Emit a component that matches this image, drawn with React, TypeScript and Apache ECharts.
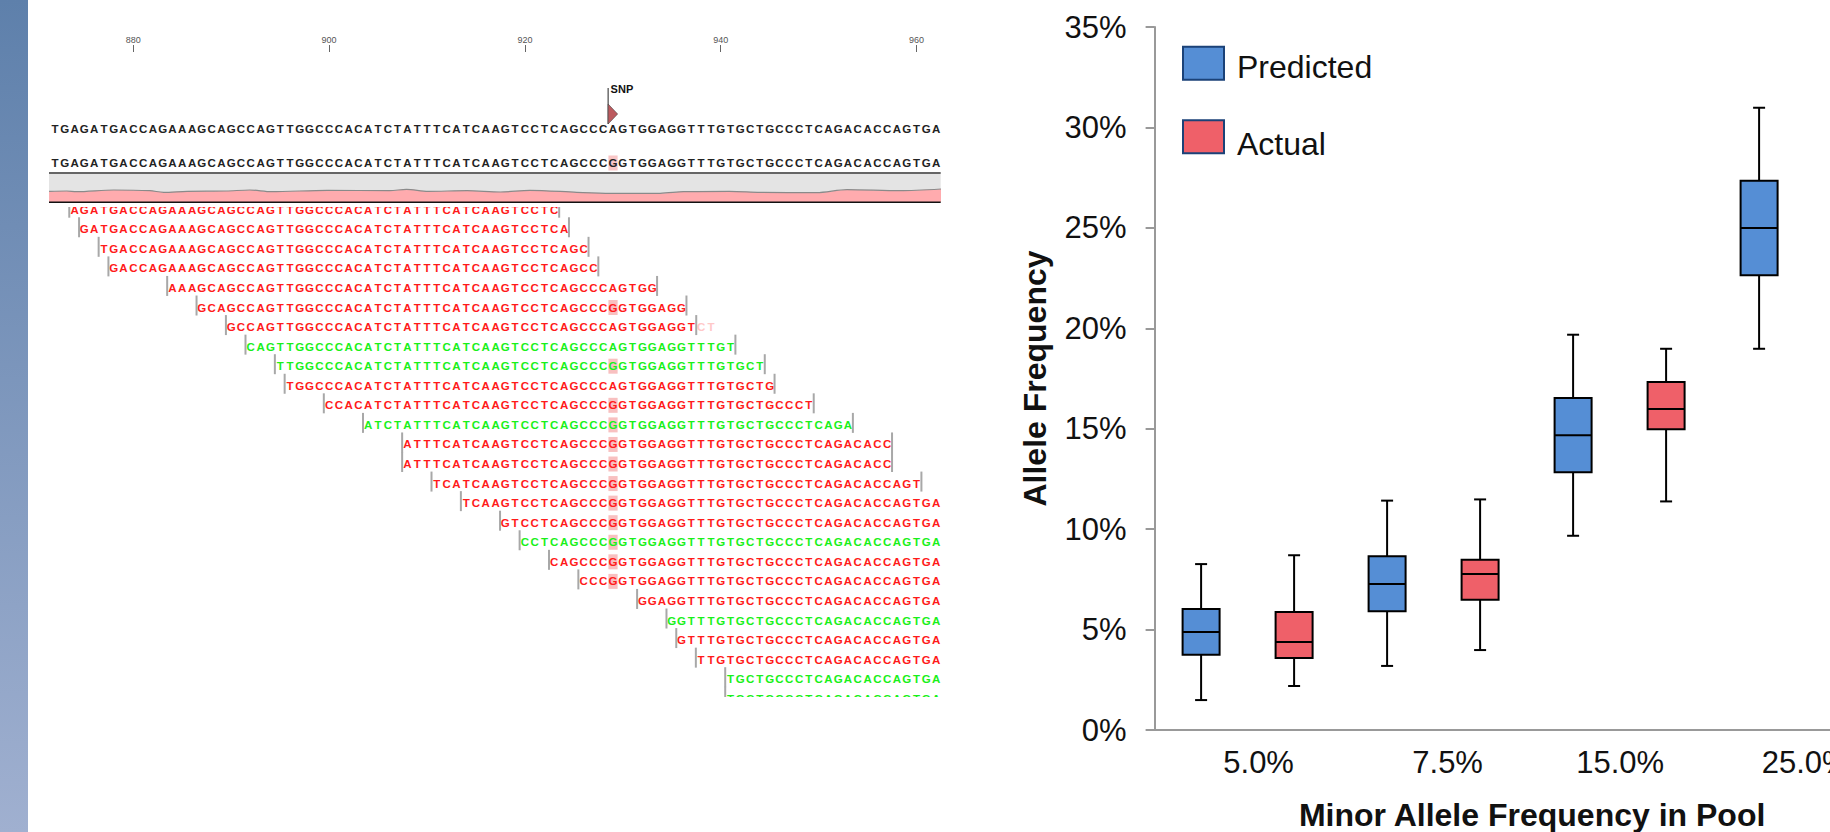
import React, { useEffect, useRef } from "react";
import * as echarts from "echarts";

const FONT = "Liberation Sans";

// ---- box plot data (percent): [categoryIndex, min, q1, median, q3, max]
const categories = ["5.0%", "7.5%", "15.0%", "25.0%"];
const predictedBoxes = [
  [0, 1.49, 3.75, 4.88, 6.02, 8.26],
  [1, 3.19, 5.91, 7.27, 8.65, 11.42],
  [2, 9.67, 12.83, 14.67, 16.53, 19.68],
  [3, 18.98, 22.64, 24.99, 27.35, 30.98],
];
const actualBoxes = [
  [0, 2.19, 3.58, 4.38, 5.87, 8.7],
  [1, 3.98, 6.49, 7.77, 8.48, 11.48],
  [2, 11.38, 14.97, 15.98, 17.33, 18.98],
];

// ---- sequence viewer data
const firstBase = 872;
const rulerTicks = [880, 900, 920, 940, 960];
const consensus = "TGAGATGACCAGAAAGCAGCCAGTTGGCCCACATCTATTTCATCAAGTCCTCAGCCCAGTGGAGGTTTGTGCTGCCCTCAGACACCAGTGA";
const snpPosition = 929;
const snpAllele = "G";
const readStarts = [2, 3, 5, 6, 12, 15, 18, 20, 23, 24, 28, 32, 36, 36, 39, 42, 46, 48, 51, 54, 60, 63, 64, 66, 69, 69];
const readEnds = [51, 52, 54, 55, 61, 64, 65, 69, 72, 73, 77, 81, 85, 85, 88, 90, 90, 90, 90, 90, 90, 90, 90, 90, 90, 90];
const readStrands = "RRRRRRRGGRRGRRRRRGRRRGRRGG";
const readAlleles = "AAAAAGAAGAGGGGGGGGGGGGGGGG";
const fadedTails = { 6: "CT" } as Record<number, string>;
const coveragePositions = [871.4, 873.2, 874.2, 878, 881.7, 883.1, 885.5, 889.5, 891.9, 894.1, 899.8, 906.2, 907.9, 910.1, 914.1, 917.5, 920.5, 925.3, 928.7, 933.8, 936.2, 940.9, 944, 949.8, 952.9, 958.3, 962.5];
const coverageValues = [10.7, 11, 10.3, 12, 11.3, 9.7, 10.7, 11, 12, 10.3, 11.7, 11.3, 12.7, 10.7, 11.3, 10, 11.7, 9.7, 8.7, 8.7, 10.3, 10.7, 9.7, 9.3, 12.3, 11.3, 13];

const xMin = 871.39;
const xMax = 962.47;
const BLUE = "#558ED5";
const RED = "#EF6069";
const NAVY = "#1B4278";
const RED_TEXT = "#FF1A1A";
const GREEN_TEXT = "#19F019";

function letter(api: any, p: number, laneValue: number, ch: string, fill: string) {
  const c = api.coord([p, laneValue]);
  return {
    type: "text",
    x: c[0],
    y: c[1],
    style: { text: ch, fill, fontFamily: FONT, fontWeight: "bold", fontSize: 11.5, align: "center", verticalAlign: "middle" },
    silent: true,
  };
}

function snpShade(api: any, laneValue: number, color: string) {
  const c = api.coord([snpPosition, laneValue]);
  return { type: "rect", shape: { x: c[0] - 4.6, y: c[1] - 7.5, width: 9.2, height: 15 }, style: { fill: color }, silent: true };
}

function renderLane(params: any, api: any) {
  const lane = api.value(0);
  const children: any[] = [];
  if (lane === 1) children.push(snpShade(api, 1, "#F9C6C6"));
  for (let i = 0; i < consensus.length; i++) {
    const p = firstBase + i;
    const ch = lane === 1 && p === snpPosition ? snpAllele : consensus[i];
    children.push(letter(api, p, lane, ch, "#222222"));
  }
  return { type: "group", children };
}

function renderSnp(params: any, api: any) {
  const c = api.coord([snpPosition, 0]);
  const x = c[0] - 4.9;
  return {
    type: "group",
    children: [
      { type: "line", shape: { x1: x, y1: 88, x2: x, y2: 124 }, style: { stroke: "#222", lineWidth: 1 }, silent: true },
      { type: "polygon", shape: { points: [[x, 104], [x + 9.5, 114], [x, 124]] }, style: { fill: "#BC5A5E", stroke: "#444", lineWidth: 0.6 }, silent: true },
      { type: "text", x: x + 2.5, y: 89, style: { text: "SNP", fill: "#111", fontFamily: FONT, fontWeight: "bold", fontSize: 11, align: "left", verticalAlign: "middle" }, silent: true },
    ],
  };
}

function renderRead(params: any, api: any) {
  const row = api.value(0);
  const start = api.value(1);
  const end = api.value(2);
  const fill = readStrands[row] === "G" ? GREEN_TEXT : RED_TEXT;
  const children: any[] = [];
  const allele = readAlleles[row];
  const snpIdx = snpPosition - firstBase;
  if (allele === snpAllele && start <= snpIdx && end >= snpIdx) children.push(snpShade(api, row, "#F8C0C0"));
  for (let i = start; i <= end; i++) {
    const ch = i === snpIdx ? allele : consensus[i];
    children.push(letter(api, firstBase + i, row, ch, fill));
  }
  const tail = fadedTails[row];
  if (tail) {
    for (let k = 0; k < tail.length; k++) children.push(letter(api, firstBase + end + 1 + k, row, tail[k], "#FFC8C8"));
  }
  const bar = (xPos: number) => {
    const c = api.coord([xPos, row]);
    return { type: "rect", shape: { x: c[0] - 1, y: c[1] - 12, width: 2, height: 20 }, style: { fill: "#A8A8A8" }, silent: true };
  };
  children.push(bar(firstBase + start - 0.54));
  if (end < consensus.length - 1) children.push(bar(firstBase + end + 0.5));
  return { type: "group", children };
}

function renderBox(offset: number, fill: string) {
  return (params: any, api: any) => {
    const cx = api.coord([api.value(0), 0])[0] + offset;
    const y = (d: number) => api.coord([0, api.value(d)])[1];
    const ln = { stroke: "#000000", lineWidth: 2 };
    const seg = (x1: number, y1: number, x2: number, y2: number) => ({ type: "line", shape: { x1, y1, x2, y2 }, style: ln, silent: true });
    return {
      type: "group",
      children: [
        seg(cx, y(1), cx, y(2)),
        seg(cx, y(4), cx, y(5)),
        seg(cx - 6, y(1), cx + 6, y(1)),
        seg(cx - 6, y(5), cx + 6, y(5)),
        { type: "rect", shape: { x: cx - 18.5, y: y(4), width: 37, height: y(2) - y(4) }, style: { fill, stroke: "#000000", lineWidth: 2 }, silent: true },
        seg(cx - 18.5, y(3), cx + 18.5, y(3)),
      ],
    };
  };
}

const laneData = [[0], [1]];
const readData = readStarts.map((s, i) => [i, s, readEnds[i]]);

const hiddenX = { type: "value", min: xMin, max: xMax, show: false };

const option: any = {
  animation: false,
  backgroundColor: "#ffffff",
  textStyle: { fontFamily: FONT },
  graphic: [
    {
      type: "rect",
      shape: { x: 0, y: 0, width: 28, height: 832 },
      style: {
        fill: new echarts.graphic.LinearGradient(0, 0, 0, 1, [
          { offset: 0, color: "#5E80AB" },
          { offset: 1, color: "#A0B0D0" },
        ]),
      },
      silent: true,
    },
    { type: "rect", shape: { x: 49, y: 172, width: 891.7, height: 2 }, style: { fill: "#666666" }, silent: true, z: 10 },
    { type: "rect", shape: { x: 49, y: 201.5, width: 891.7, height: 1.5 }, style: { fill: "#111111" }, silent: true, z: 10 },
  ],
  legend: {
    left: 1182,
    top: 45.8,
    orient: "vertical",
    itemWidth: 41,
    itemHeight: 33,
    itemGap: 36,
    padding: 0,
    selectedMode: false,
    formatter: (name: string) => (name === "Predicted" ? "{p|Predicted}" : "{a|Actual}"),
    textStyle: {
      fontFamily: FONT,
      fontSize: 32,
      color: "#111111",
      padding: [0, 0, 0, 8],
      rich: {
        p: { fontFamily: FONT, fontSize: 32, color: "#111111", lineHeight: 40, verticalAlign: "bottom" },
        a: { fontFamily: FONT, fontSize: 32, color: "#111111", lineHeight: 47, verticalAlign: "bottom" },
      },
    },
    data: [
      { name: "Predicted", icon: "rect", itemStyle: { color: BLUE, borderColor: NAVY, borderWidth: 2 } },
      { name: "Actual", icon: "rect", itemStyle: { color: RED, borderColor: NAVY, borderWidth: 2 } },
    ],
  },
  grid: [
    { left: 49, top: 52, width: 891.7, height: 120, outerBoundsMode: "none" },
    { left: 49, top: 174, width: 891.7, height: 28, show: true, backgroundColor: "#E4E4E4", borderWidth: 0, outerBoundsMode: "none" },
    { left: 49, top: 207, width: 891.7, height: 490, outerBoundsMode: "none" },
    { left: 1154.6, top: 27, width: 744, height: 703, outerBoundsMode: "none" },
  ],
  xAxis: [
    {
      type: "value",
      gridIndex: 0,
      position: "top",
      min: xMin,
      max: xMax,
      axisLine: { show: false, onZero: false },
      splitLine: { show: false },
      axisTick: { show: true, length: 7, customValues: rulerTicks, lineStyle: { color: "#666666", width: 1 } },
      axisLabel: { show: true, customValues: rulerTicks, fontSize: 9, color: "#555555", margin: 8, fontFamily: FONT },
    },
    { ...hiddenX, gridIndex: 1 },
    { ...hiddenX, gridIndex: 2 },
    {
      type: "category",
      gridIndex: 3,
      data: [
        { value: categories[0], textStyle: { padding: [0, 0, 0, 22] } },
        { value: categories[1], textStyle: { padding: [0, 0, 0, 28] } },
        { value: categories[2], textStyle: { padding: [0, 0, 0, 1] } },
        { value: categories[3], textStyle: { padding: [0, 0, 0, 0] } },
      ],
      axisLine: { lineStyle: { color: "#999999", width: 2 } },
      axisTick: { show: false },
      axisLabel: { interval: 0, fontSize: 31, color: "#111111", margin: 17, fontFamily: FONT },
      name: "Minor Allele Frequency in Pool",
      nameLocation: "middle",
      nameGap: 69,
      nameTextStyle: { fontFamily: FONT, fontWeight: "bold", fontSize: 32, color: "#111111", padding: [0, 0, 0, 11] },
    },
  ],
  yAxis: [
    { type: "value", gridIndex: 0, inverse: true, min: -2.265, max: 1.265, show: false },
    { type: "value", gridIndex: 1, min: 0, max: 28, show: false },
    { type: "value", gridIndex: 2, inverse: true, min: -0.138, max: 24.91, show: false },
    {
      type: "value",
      gridIndex: 3,
      min: 0,
      max: 35,
      interval: 5,
      axisLine: { show: true, lineStyle: { color: "#999999", width: 2 } },
      axisTick: { show: true, length: 9, lineStyle: { color: "#999999", width: 2 } },
      splitLine: { show: false },
      axisLabel: { formatter: "{value}%", fontSize: 31, color: "#111111", margin: 28, padding: [4, 0, 0, 0], fontFamily: FONT },
      name: "Allele Frequency",
      nameLocation: "middle",
      nameGap: 104,
      nameRotate: 90,
      nameTextStyle: { fontFamily: FONT, fontWeight: "bold", fontSize: 32, color: "#111111" },
    },
  ],
  series: [
    { type: "custom", name: "Lanes", xAxisIndex: 0, yAxisIndex: 0, data: laneData, encode: { y: 0 }, renderItem: renderLane, clip: false, silent: true },
    { type: "custom", name: "SNP", xAxisIndex: 0, yAxisIndex: 0, data: [[snpPosition, 0]], encode: { x: 0, y: 1 }, renderItem: renderSnp, clip: false, silent: true },
    {
      type: "line",
      name: "Coverage",
      xAxisIndex: 1,
      yAxisIndex: 1,
      data: coveragePositions.map((p, i) => [p, coverageValues[i]]),
      showSymbol: false,
      smooth: 0.3,
      lineStyle: { color: "#8A8A8A", width: 1.2 },
      areaStyle: { color: "#FFABAE", opacity: 1 },
      silent: true,
    },
    { type: "custom", name: "Reads", xAxisIndex: 2, yAxisIndex: 2, data: readData, encode: { y: 0 }, renderItem: renderRead, clip: true, silent: true },
    { type: "custom", name: "Predicted", xAxisIndex: 3, yAxisIndex: 3, data: predictedBoxes, encode: { x: 0, y: [1, 2, 3, 4, 5] }, renderItem: renderBox(-46.5, BLUE), itemStyle: { color: BLUE }, clip: false, silent: true },
    { type: "custom", name: "Actual", xAxisIndex: 3, yAxisIndex: 3, data: actualBoxes, encode: { x: 0, y: [1, 2, 3, 4, 5] }, renderItem: renderBox(46.5, RED), itemStyle: { color: RED }, clip: false, silent: true },
  ],
};

export default function App() {
  const ref = useRef<HTMLDivElement>(null);
  useEffect(() => {
    const chart = echarts.init(ref.current!, undefined, { renderer: "svg" });
    chart.setOption(option);
    return () => chart.dispose();
  }, []);
  return <div ref={ref} style={{ position: "fixed", left: 0, top: 0, width: 1830, height: 832, background: "#fff" }} />;
}
